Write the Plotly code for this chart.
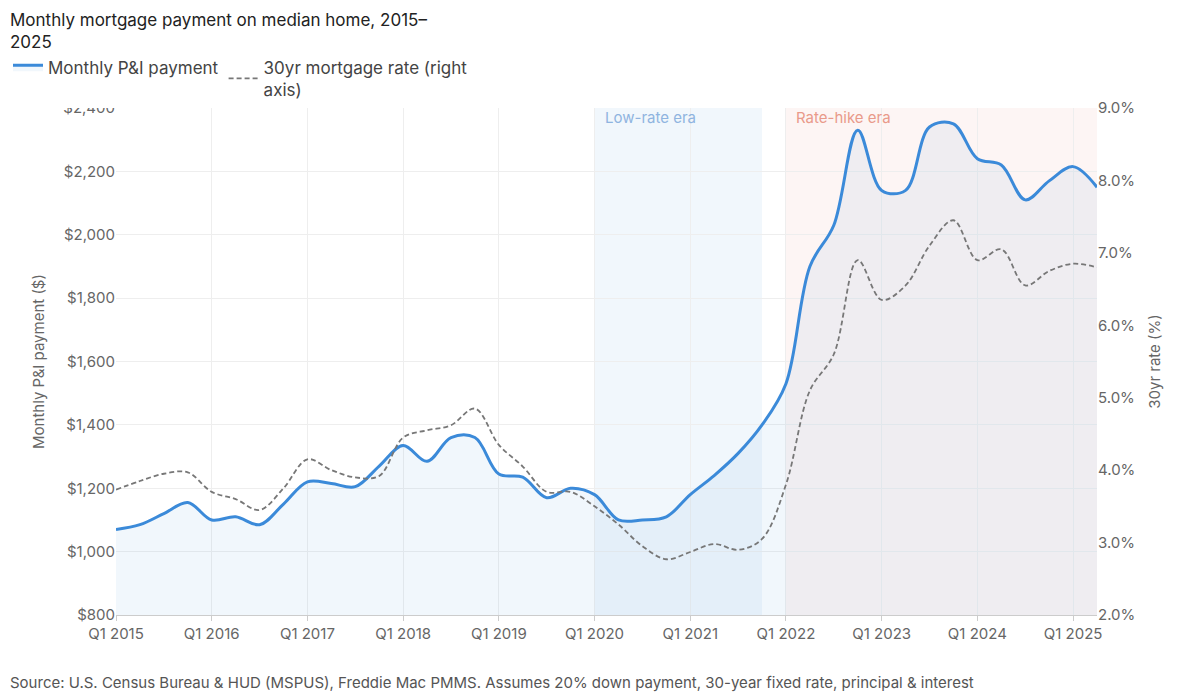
import plotly.graph_objects as go

quarters = [f"Q{q} {y}" for y in range(2015, 2026) for q in range(1, 5)][:42]
payment = [1070, 1085, 1120, 1155, 1100, 1110, 1085, 1150,
           1220, 1215, 1205, 1270, 1335, 1285, 1360, 1360,
           1245, 1235, 1170, 1200, 1180, 1100, 1100, 1110,
           1180, 1240, 1310, 1400, 1530, 1900, 2030, 2330,
           2140, 2140, 2340, 2350, 2240, 2220, 2110, 2170,
           2215, 2150]
rate = [3.73, 3.85, 3.95, 3.97, 3.7, 3.6, 3.45, 3.75,
        4.15, 4.0, 3.9, 3.92, 4.45, 4.55, 4.62, 4.85,
        4.35, 4.05, 3.7, 3.7, 3.5, 3.25, 2.95, 2.77,
        2.87, 2.98, 2.9, 3.05, 3.8, 5.1, 5.6, 6.9,
        6.35, 6.55, 7.1, 7.45, 6.9, 7.05, 6.55, 6.75,
        6.85, 6.8]
tick_labels = [q for q in quarters if q.startswith("Q1")]

fig = go.Figure()
fig.add_trace(go.Scatter(x=quarters, y=payment, name="Monthly P&I payment",
                         mode="lines", line=dict(color="#3b8ad9", width=3, shape="spline"),
                         fill="tozeroy", fillcolor="rgba(59,138,217,0.07)"))
fig.add_trace(go.Scatter(x=quarters, y=rate, name="30yr mortgage rate (right<br>axis)",
                         mode="lines", yaxis="y2",
                         line=dict(color="#777", width=1.8, dash="5px,3px", shape="spline")))

fig.add_vrect(x0="Q1 2020", x1="Q4 2021", fillcolor="rgba(59,138,217,0.07)", line_width=0, layer="below")
fig.add_vrect(x0="Q1 2022", x1="Q2 2025", fillcolor="rgba(230,120,100,0.07)", line_width=0, layer="below")
fig.add_annotation(x="Q1 2020", y=2370, text="Low-rate era", showarrow=False, xanchor="left", xshift=8,
                   font=dict(color="#8fb4e0", size=15))
fig.add_annotation(x="Q1 2022", y=2370, text="Rate-hike era", showarrow=False, xanchor="left", xshift=8,
                   font=dict(color="#e99a8a", size=15))

fig.update_layout(
    width=1200, height=697, plot_bgcolor="white", paper_bgcolor="white",
    font=dict(family="Inter, Roboto, sans-serif", size=15, color="#666"),
    margin=dict(l=108, r=111, t=100, b=90),
    legend=dict(orientation="h", xref="container", yref="container", x=0.0, y=0.94,
                xanchor="left", yanchor="top", font=dict(size=17, color="#444")),
    xaxis=dict(type="category", tickvals=tick_labels, ticktext=tick_labels, showgrid=True,
               gridcolor="#eee", linecolor="#ccc", ticks="outside", tickcolor="#ccc",
               range=[0, 41], tickfont=dict(size=15), automargin=False),
    yaxis=dict(range=[800, 2400], dtick=200, tickprefix="$", tickformat=",", gridcolor="#eee",
               title=dict(text="Monthly P&I payment ($)", font=dict(size=15)), zeroline=False,
               automargin=False),
    yaxis2=dict(range=[2, 9], dtick=1, ticksuffix="%", tickformat=".1f", overlaying="y", side="right",
                showgrid=False, title=dict(text="30yr rate (%)", font=dict(size=15)), automargin=False),
)
fig.add_annotation(text="Monthly mortgage payment on median home, 2015–<br>2025",
                   xref="paper", yref="paper", x=-0.11, y=1.197, xanchor="left", yanchor="top",
                   align="left", showarrow=False, font=dict(size=17, color="#222"))
fig.add_annotation(text="Source: U.S. Census Bureau & HUD (MSPUS), Freddie Mac PMMS. Assumes 20% down payment, 30-year fixed rate, principal & interest",
                   xref="paper", yref="paper", x=-0.11, y=-0.134, xanchor="left", yanchor="middle",
                   showarrow=False, font=dict(size=15, color="#555"))
fig.write_html("out.html")
